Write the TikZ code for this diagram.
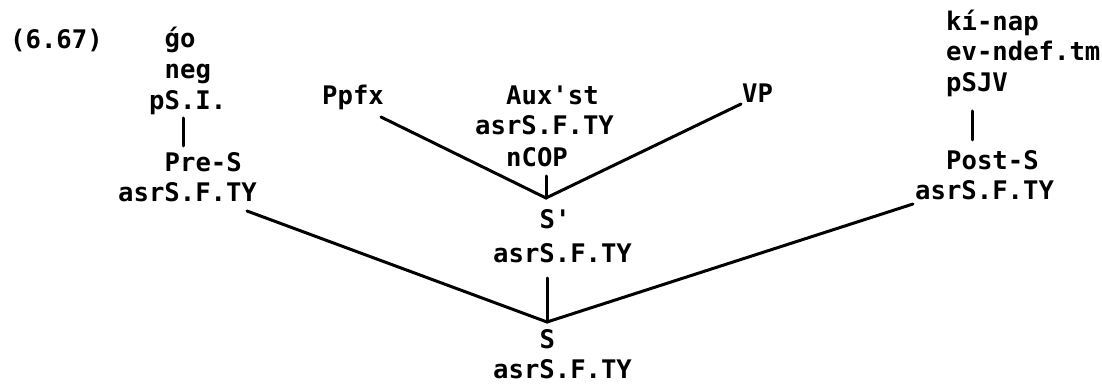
\documentclass[tikz,border=0pt]{standalone}
\usepackage{fontspec}
\setmonofont{DejaVu Sans Mono}
\tikzset{
  lbl/.style={anchor=base west, inner sep=0pt, font=\ttfamily\bfseries\fontsize{25.6}{30}\selectfont},
  br/.style={line width=3pt, line cap=round}
}
\begin{document}
\begin{tikzpicture}[x=1pt,y=-1pt]
\useasboundingbox (0,0) rectangle (1102,387);
% example number
\node[lbl] (ex) at (10,49) {(6.67)};
% left column
\node[lbl] (lgo)  at (164.5,48) {ǵo};
\node[lbl] (lneg) at (164.5,79) {neg};
\node[lbl] (lpsi) at (149,110) {pS.I.};
\node[lbl] (lpre) at (164.5,172) {Pre-S};
\node[lbl] (lasr) at (118,202) {asrS.F.TY};
% centre top
\node[lbl] (ppfx) at (322,105) {Ppfx};
\node[lbl] (aux)  at (506,105) {Aux'st};
\node[lbl] (aasr) at (475,135) {asrS.F.TY};
\node[lbl] (ncop) at (506,167) {nCOP};
\node[lbl] (vp)   at (742,103) {VP};
\node[lbl] (sp)   at (539.5,229) {S'};
\node[lbl] (spasr) at (493,262) {asrS.F.TY};
\node[lbl] (s)    at (539.5,348) {S};
\node[lbl] (sasr) at (493,378) {asrS.F.TY};
% right column
\node[lbl] (rki)  at (946,31) {kí-nap};
\node[lbl] (rev)  at (946,61) {ev-ndef.tm};
\node[lbl] (rpsjv) at (946,92) {pSJV};
\node[lbl] (rpost) at (946,170) {Post-S};
\node[lbl] (rasr) at (915,200) {asrS.F.TY};
% connector end points
\coordinate (lbarT) at (183,118);
\coordinate (lbarB) at (183,146);
\coordinate (rbarT) at (972,111);
\coordinate (rbarB) at (972,140);
\coordinate (ppfxE) at (381,117);
\coordinate (vpE)   at (741,104);
\coordinate (ncopB) at (546,176);
\coordinate (apex1) at (546,198);
\coordinate (spB)   at (547,278);
\coordinate (apex2) at (547,322);
\coordinate (lasrE) at (247,211);
\coordinate (rasrE) at (913,204);
% connectors
\draw[br] (lbarT) -- (lbarB);
\draw[br] (rbarT) -- (rbarB);
\draw[br] (ppfxE) -- (apex1) -- (vpE);
\draw[br] (ncopB) -- (apex1);
\draw[br] (spB) -- (apex2);
\draw[br] (lasrE) -- (apex2) -- (rasrE);
\end{tikzpicture}
\end{document}
